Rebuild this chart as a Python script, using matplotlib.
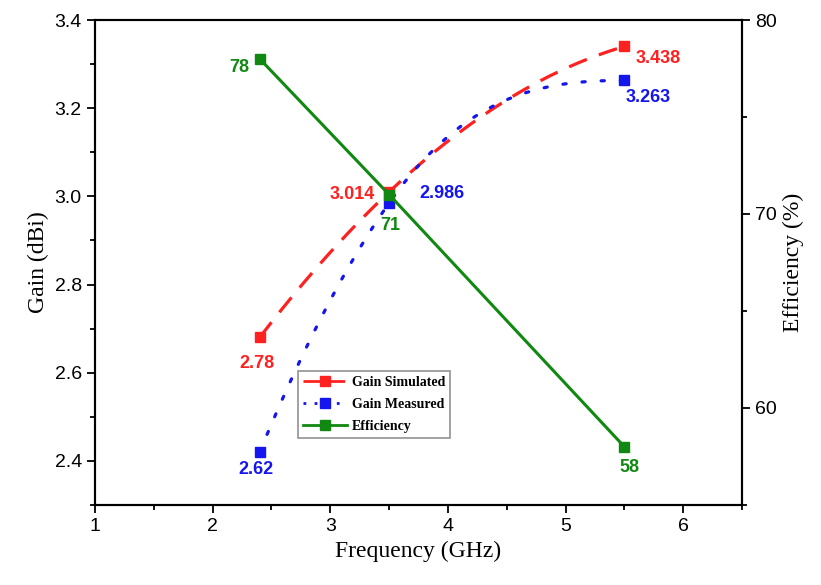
import numpy as np
import matplotlib
matplotlib.use("Agg")
import matplotlib.pyplot as plt
from matplotlib.ticker import MultipleLocator
from matplotlib.lines import Line2D

freq = [2.4, 3.5, 5.5]
gain_sim = [2.68, 3.01, 3.34]
gain_meas = [2.42, 2.985, 3.263]
efficiency = [78, 71, 58]
sim_labels = ["2.78", "3.014", "3.438"]
meas_labels = ["2.62", "2.986", "3.263"]
eff_labels = ["78", "71", "58"]

RED = "#ff2020"
BLUE = "#1515ee"
GREEN = "#118811"


def smooth(x, y, xs):
    """Cubic Hermite curve through the points (three-point slopes, no overshoot at ends)."""
    x = np.asarray(x, float); y = np.asarray(y, float)
    h = np.diff(x); d = np.diff(y) / h
    mid = (h[1] * d[0] + h[0] * d[1]) / (h[0] + h[1])
    c2 = 2 * (d[1] - d[0]) / (h[0] + h[1])
    m = np.array([mid - c2 * h[0], mid, mid + c2 * h[1]])
    m[-1] = max(m[-1], 0.0)
    out = np.empty_like(xs)
    for i, xv in enumerate(xs):
        k = min(np.searchsorted(x, xv, side="right") - 1, len(x) - 2)
        t = (xv - x[k]) / h[k]
        h00 = 2 * t**3 - 3 * t**2 + 1; h10 = t**3 - 2 * t**2 + t
        h01 = -2 * t**3 + 3 * t**2; h11 = t**3 - t**2
        out[i] = h00 * y[k] + h10 * h[k] * m[k] + h01 * y[k + 1] + h11 * h[k] * m[k + 1]
    return out


fig = plt.figure(figsize=(8.21, 5.85), dpi=100)
ax = fig.add_axes([0.1157, 0.1368, 0.7881, 0.829])
ax2 = ax.twinx()

xs = np.linspace(freq[0], freq[-1], 300)
ax.plot(xs, smooth(freq, gain_sim, xs), color=RED, lw=2.3, ls=(0, (6, 4)), zorder=3)
ax.plot(freq, gain_sim, ls="none", marker="s", ms=7, color=RED, zorder=4)
ax.plot(xs, smooth(freq, gain_meas, xs), color=BLUE, lw=2.3, ls=(0, (1, 5)), dash_capstyle="round", zorder=3)
ax.plot(freq, gain_meas, ls="none", marker="s", ms=7, color=BLUE, zorder=4)
ax2.plot(freq, efficiency, color=GREEN, lw=2.2, marker="s", ms=7, zorder=5)

ax.set_xlim(1, 6.5)
ax.set_ylim(2.3, 3.4)
ax2.set_ylim(55, 80)
ax.xaxis.set_major_locator(MultipleLocator(1))
ax.xaxis.set_minor_locator(MultipleLocator(0.5))
ax.yaxis.set_major_locator(MultipleLocator(0.2))
ax.yaxis.set_minor_locator(MultipleLocator(0.1))
ax2.yaxis.set_major_locator(MultipleLocator(10))
ax2.yaxis.set_minor_locator(MultipleLocator(5))

tickfont = "Liberation Sans"
for a in (ax, ax2):
    a.tick_params(which="major", direction="out", length=6, width=1.3, labelsize=14)
    a.tick_params(which="minor", direction="out", length=3.5, width=1.3)
    for lab in a.get_xticklabels() + a.get_yticklabels():
        lab.set_fontfamily(tickfont)
    for s in a.spines.values():
        s.set_linewidth(1.5)

ax.set_xlabel("Frequency (GHz)", fontsize=17, family="Liberation Serif")
ax.set_ylabel("Gain (dBi)", fontsize=17, family="Liberation Serif")
ax2.set_ylabel("Efficiency (%)", fontsize=17, family="Liberation Serif")

lf = dict(fontsize=13, fontweight="bold", family="Liberation Sans")
ax.annotate(sim_labels[0], (freq[0], gain_sim[0]), xytext=(-2, -22), textcoords="offset points", ha="center", color=RED, **lf)
ax.annotate(sim_labels[1], (freq[1], gain_sim[1]), xytext=(-10, -2), textcoords="offset points", ha="right", va="center", color=RED, **lf)
ax.annotate(sim_labels[2], (freq[2], gain_sim[2]), xytext=(8, -9), textcoords="offset points", ha="left", va="center", color=RED, **lf)
ax.annotate(meas_labels[0], (freq[0], gain_meas[0]), xytext=(-3, -16), textcoords="offset points", ha="center", color=BLUE, **lf)
ax.annotate(meas_labels[1], (freq[1], gain_meas[1]), xytext=(22, 7), textcoords="offset points", ha="left", va="center", color=BLUE, **lf)
ax.annotate(meas_labels[2], (freq[2], gain_meas[2]), xytext=(1, -12), textcoords="offset points", ha="left", va="center", color=BLUE, **lf)
ax2.annotate(eff_labels[0], (freq[0], efficiency[0]), xytext=(-15, -6), textcoords="offset points", ha="center", va="center", color=GREEN, **lf)
ax2.annotate(eff_labels[1], (freq[1], efficiency[1]), xytext=(1, -22), textcoords="offset points", ha="center", va="center", color=GREEN, **lf)
ax2.annotate(eff_labels[2], (freq[2], efficiency[2]), xytext=(4, -15), textcoords="offset points", ha="center", va="center", color=GREEN, **lf)

handles = [
    Line2D([], [], color=RED, lw=2, ls=(0, (6, 3)), marker="s", ms=7),
    Line2D([], [], color=BLUE, lw=2, ls=(0, (1, 3)), marker="s", ms=7),
    Line2D([], [], color=GREEN, lw=2, marker="s", ms=7),
]
leg = ax.legend(handles, ["Gain Simulated", "Gain Measured", "Efficiency"],
                loc="upper left", bbox_to_anchor=(0.314, 0.276),
                prop={"family": "Liberation Serif", "weight": "bold", "size": 10},
                frameon=True, fancybox=False, edgecolor="#777777", handlelength=3.2,
                borderpad=0.35, labelspacing=0.65, handletextpad=0.3, borderaxespad=0)
leg.get_frame().set_linewidth(1.2)

fig.savefig("out.png", dpi=100)
